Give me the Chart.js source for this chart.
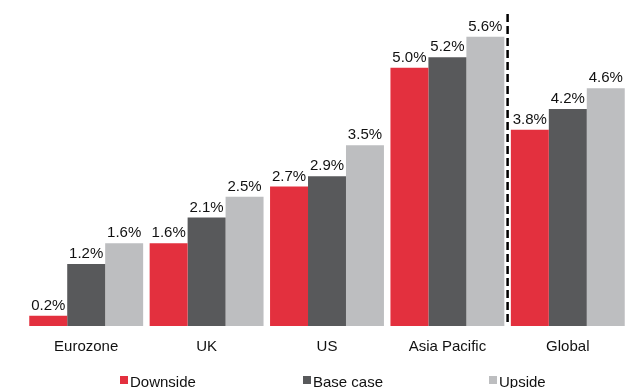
<!DOCTYPE html>
<html>
<head>
<meta charset="utf-8">
<script src="https://cdn.jsdelivr.net/npm/chart.js@4/dist/chart.umd.min.js"></script>
<style>
  html, body { margin: 0; padding: 0; background: #ffffff; }
  #wrap { width: 628px; height: 388px; }
</style>
</head>
<body>
<div id="wrap"><canvas id="growth" width="628" height="388"></canvas></div>
<script>
// Growth scenarios by region (%)
const categories = ['Eurozone', 'UK', 'US', 'Asia Pacific', 'Global'];
const seriesNames = ['Downside', 'Base case', 'Upside'];
const downside = [0.2, 1.6, 2.7, 5.0, 3.8];
const baseCase = [1.2, 2.1, 2.9, 5.2, 4.2];
const upside = [1.6, 2.5, 3.5, 5.6, 4.6];
const seriesColors = ['#E3303E', '#58595B', '#BDBEC0'];

const FONT = 'Liberation Sans, Arial, Helvetica, sans-serif';
const FONT_SIZE = 15;
const TEXT = '#111111';

// Value labels above every bar
const valueLabels = {
  id: 'valueLabels',
  afterDatasetsDraw(chart) {
    const ctx = chart.ctx;
    ctx.save();
    ctx.font = FONT_SIZE + 'px ' + FONT;
    ctx.fillStyle = TEXT;
    ctx.textAlign = 'center';
    ctx.textBaseline = 'alphabetic';
    chart.data.datasets.forEach((ds, i) => {
      chart.getDatasetMeta(i).data.forEach((bar, j) => {
        ctx.fillText(ds.data[j].toFixed(1) + '%', bar.x, bar.y - 6);
      });
    });
    ctx.restore();
  }
};

// Dashed separator between the regions and the global aggregate
const separator = {
  id: 'separator',
  afterDatasetsDraw(chart) {
    const x = chart.scales.x.getPixelForValue(categories.length - 1.5);
    const ctx = chart.ctx;
    ctx.save();
    ctx.strokeStyle = '#000000';
    ctx.lineWidth = 2.5;
    ctx.setLineDash([8, 4]);
    ctx.beginPath();
    ctx.moveTo(x, 14);
    ctx.lineTo(x, chart.chartArea.bottom);
    ctx.stroke();
    ctx.restore();
  }
};

// Legend row along the bottom
const bottomLegend = {
  id: 'bottomLegend',
  afterDraw(chart) {
    const ctx = chart.ctx;
    const starts = [120, 303, 489];
    const y = 376;
    ctx.save();
    ctx.font = FONT_SIZE + 'px ' + FONT;
    ctx.textBaseline = 'alphabetic';
    ctx.textAlign = 'left';
    chart.data.datasets.forEach((ds, i) => {
      ctx.fillStyle = ds.backgroundColor;
      ctx.fillRect(starts[i], y, 8, 8);
      ctx.fillStyle = TEXT;
      ctx.fillText(ds.label, starts[i] + 10, y + 11);
    });
    ctx.restore();
  }
};

new Chart(document.getElementById('growth'), {
  type: 'bar',
  data: {
    labels: categories,
    datasets: [
      { label: seriesNames[0], data: downside, backgroundColor: seriesColors[0] },
      { label: seriesNames[1], data: baseCase, backgroundColor: seriesColors[1] },
      { label: seriesNames[2], data: upside, backgroundColor: seriesColors[2] }
    ]
  },
  options: {
    responsive: false,
    animation: false,
    devicePixelRatio: 1,
    layout: { padding: { left: 26, right: 0, top: 16, bottom: 20 } },
    datasets: { bar: { categoryPercentage: 0.946, barPercentage: 1.0, borderWidth: 0 } },
    plugins: {
      legend: { display: false },
      tooltip: { enabled: false }
    },
    scales: {
      x: {
        grid: { display: false, drawTicks: false },
        border: { display: false },
        ticks: { color: TEXT, font: { family: FONT, size: FONT_SIZE }, padding: 12 }
      },
      y: { display: false, min: 0, max: 6 }
    }
  },
  plugins: [valueLabels, separator, bottomLegend]
});
</script>
</body>
</html>
